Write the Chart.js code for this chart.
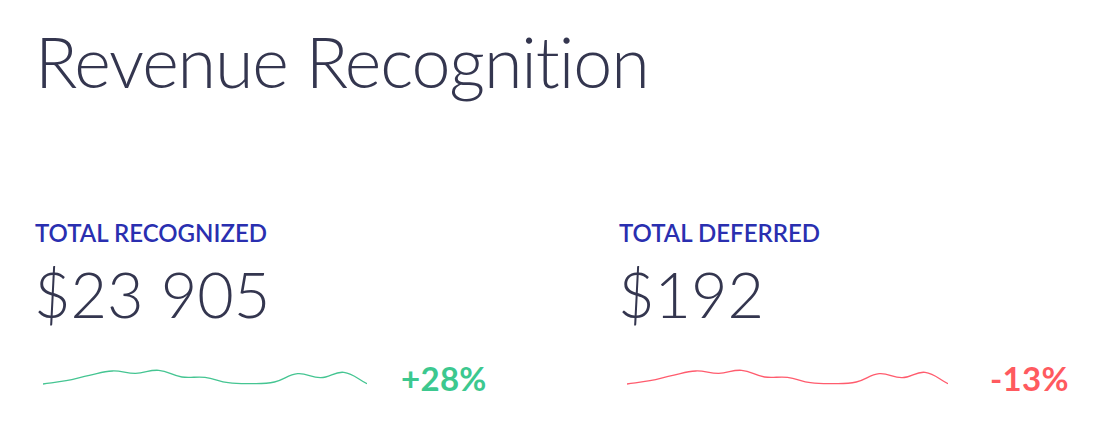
<!DOCTYPE html>
<html>
<head>
<meta charset="utf-8">
<script src="https://cdn.jsdelivr.net/npm/chart.js@4/dist/chart.umd.min.js"></script>
<style>
  html, body { margin: 0; padding: 0; background: #fff; }
  body { width: 1102px; height: 442px; position: relative; overflow: hidden; font-family: Lato, sans-serif; font-variant-ligatures: none; }
  .t { position: absolute; white-space: nowrap; line-height: 1; }
  .title { left: 35px; top: 26px; font-size: 70px; font-weight: 300; color: #34364f; letter-spacing: -1.1px; }
  .label { top: 221px; font-size: 24px; font-weight: 600; color: #2a2fb0; }
  .value { top: 262px; font-size: 63px; font-weight: 300; color: #34364f; }
  .pct { top: 362px; font-size: 33px; font-weight: 700; letter-spacing: 0.3px; }
  .spark { position: absolute; top: 355px; height: 30px; }
</style>
</head>
<body>
<div class="t title">Revenue Recognition</div>

<div class="t label" style="left:35px">TOTAL RECOGNIZED</div>
<div class="t value" style="left:34px">$23 905</div>
<div class="spark" style="left:43px;width:324px"><canvas id="recognizedChart"></canvas></div>
<div class="t pct" style="left:401px;color:#3cc88f">+28%</div>

<div class="t label" style="left:619px">TOTAL DEFERRED</div>
<div class="t value" style="left:618px">$192</div>
<div class="spark" style="left:627px;width:321px"><canvas id="deferredChart"></canvas></div>
<div class="t pct" style="left:990px;color:#ff5a5f">-13%</div>

<script>
// sparkline points (relative units)
const points = ['1', '2', '3', '4', '5', '6', '7', '8', '9', '10', '11', '12', '13', '14', '15'];
const recognizedTrend = [13, 23, 39, 52, 45, 54, 34, 33, 17, 14, 19, 44, 32, 48, 14];
const deferredTrend = [13, 23, 39, 52, 45, 54, 34, 33, 17, 14, 19, 44, 32, 48, 14];

function sparkline(id, values, color) {
  const ctx = document.getElementById(id).getContext('2d');
  return new Chart(ctx, {
    type: 'line',
    data: {
      labels: points,
      datasets: [{
        data: values,
        borderColor: color,
        borderWidth: 1.3,
        pointRadius: 0,
        tension: 0.4,
        fill: false,
        clip: false
      }]
    },
    options: {
      responsive: true,
      maintainAspectRatio: false,
      animation: false,
      layout: { padding: 0 },
      plugins: { legend: { display: false }, tooltip: { enabled: false } },
      scales: {
        x: { display: false, offset: false },
        y: { display: false, min: 10, max: 100 }
      }
    }
  });
}

sparkline('recognizedChart', recognizedTrend, '#45c592');
sparkline('deferredChart', deferredTrend, '#ff5c6e');
</script>
</body>
</html>
